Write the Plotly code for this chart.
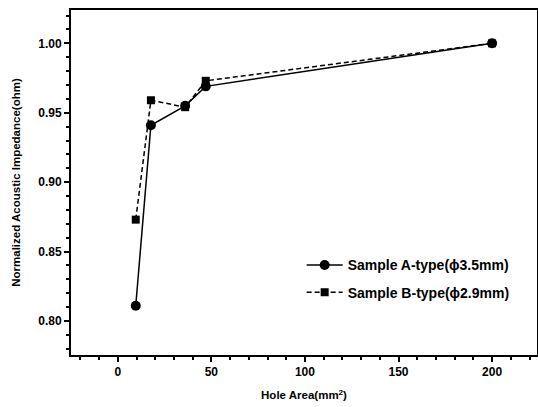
import plotly.graph_objects as go

hole_area = [9.6, 17.7, 36.0, 47.0, 200.0]
imp_a = [0.811, 0.941, 0.955, 0.969, 1.000]
imp_b = [0.873, 0.959, 0.954, 0.973, 1.000]
name_a = "Sample A-type(ϕ3.5mm)"
name_b = "Sample B-type(ϕ2.9mm)"
x_ticks = [0, 50, 100, 150, 200]
y_ticks = [0.80, 0.85, 0.90, 0.95, 1.00]

fig = go.Figure()
fig.add_trace(go.Scatter(x=hole_area, y=imp_a, name=name_a, mode="lines+markers",
                         legendgroup="a",
                         line=dict(color="black", width=1.5),
                         marker=dict(symbol="circle", size=10, color="black")))
fig.add_trace(go.Scatter(x=hole_area, y=imp_b, name=name_b, mode="lines+markers",
                         legendgroup="b",
                         line=dict(color="black", width=1.5, dash="5px,3px"),
                         marker=dict(symbol="square", size=8, color="black")))

font = "Liberation Sans, Arial, sans-serif"
fig.update_layout(
    width=538, height=407,
    margin=dict(l=71, r=1, t=10, b=52),
    paper_bgcolor="white", plot_bgcolor="white",
    font=dict(family=font, color="black"),
    showlegend=True,
    legend=dict(x=0.495, y=0.306, xanchor="left", yanchor="top",
                bgcolor="rgba(0,0,0,0)", borderwidth=0,
                font=dict(size=14, family=font, weight="bold"),
                traceorder="grouped", tracegroupgap=6, itemwidth=36),
    xaxis=dict(range=[-25, 224], tickvals=x_ticks,
               ticktext=[str(v) for v in x_ticks], automargin=False,
               showgrid=False, zeroline=False, showline=True, linecolor="black",
               linewidth=2, mirror=True, ticks="outside", ticklen=5, tickwidth=1.5,
               tickcolor="black",
               minor=dict(dtick=10, ticks="outside", ticklen=3, tickcolor="black"),
               tickfont=dict(size=12, weight="bold"),
               title=dict(text="Hole Area(mm<sup>2</sup>)", font=dict(size=11.5, weight="bold"),
                          standoff=13)),
    yaxis=dict(range=[0.7755, 1.024], tickvals=y_ticks,
               ticktext=["0.80", "0.85", "0.90", "0.95", "1.00"], automargin=False,
               showgrid=False, zeroline=False, showline=True, linecolor="black",
               linewidth=2, mirror="ticks", ticks="outside", ticklen=5, tickwidth=1.5,
               tickcolor="black",
               minor=dict(dtick=0.01, ticks="outside", ticklen=3, tickcolor="black"),
               tickfont=dict(size=12, weight="bold"),
               title=dict(text="Normalized Acoustic Impedance(ohm)",
                          font=dict(size=11.5, weight="bold"), standoff=15)),
)

fig.write_html("out.html", config={"displayModeBar": False},
               post_script="document.body.style.margin='0';")
